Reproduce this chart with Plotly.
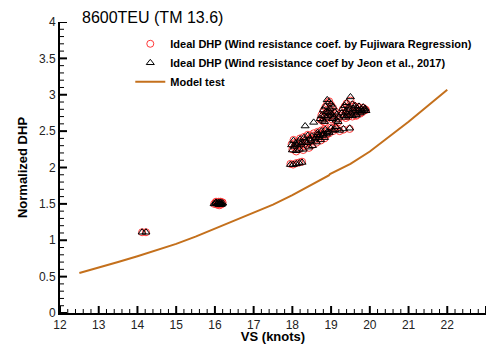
import plotly.graph_objects as go

# ---------------- data ----------------
# Ship speed (knots) of the measured voyages
vs_ship = [
    14.12, 14.22,
    15.98, 16.02, 16.05, 16.08, 16.10, 16.12, 16.14, 16.16, 16.18, 16.20, 16.03, 16.07, 16.11, 16.15,
    17.95, 18.02, 18.10, 18.18, 18.25,
    17.98, 18.00, 18.03, 18.05, 18.08, 18.10, 18.12, 18.15, 18.18, 18.20, 18.22, 18.25, 18.28, 18.30,
    18.33, 18.35, 18.38, 18.40, 18.43, 18.45, 18.48, 18.50, 18.52, 18.55, 18.58, 18.60, 18.62, 18.65,
    18.68, 18.70, 18.73, 18.75, 18.78, 18.80, 18.83, 18.85, 18.88, 18.90, 18.95, 19.00, 19.05, 19.10,
    18.72, 18.75, 18.78, 18.80, 18.82, 18.85, 18.87, 18.90, 18.92, 18.95, 18.97, 19.00, 19.02, 19.05,
    19.08, 19.10, 19.13, 19.15, 19.18, 19.20, 18.88, 18.93, 18.98, 19.03, 18.83,
    19.28, 19.30, 19.33, 19.35, 19.38, 19.40, 19.42, 19.45, 19.47, 19.50, 19.52, 19.55, 19.57, 19.60,
    19.62, 19.65, 19.68, 19.70, 19.72, 19.75, 19.78, 19.80, 19.83, 19.85, 19.88, 19.90, 19.45, 19.55,
    19.65, 19.38,
    19.22, 19.32, 19.48, 19.12, 18.65,
]

# Ideal DHP, wind resistance coefficient by Fujiwara regression
dhp_fujiwara = [
    1.11, 1.11,
    1.50, 1.52, 1.49, 1.51, 1.53, 1.50, 1.52, 1.49, 1.51, 1.52, 1.53, 1.50, 1.48, 1.53,
    2.05, 2.04, 2.06, 2.07, 2.08,
    2.32, 2.25, 2.38, 2.28, 2.34, 2.22, 2.30, 2.36, 2.26, 2.40, 2.31, 2.35, 2.24, 2.42,
    2.29, 2.37, 2.33, 2.45, 2.27, 2.40, 2.36, 2.44, 2.31, 2.47, 2.38, 2.42, 2.34, 2.49,
    2.40, 2.45, 2.37, 2.51, 2.43, 2.47, 2.40, 2.53, 2.45, 2.50, 2.47, 2.55, 2.50, 2.53,
    2.66, 2.72, 2.64, 2.78, 2.70, 2.83, 2.68, 2.88, 2.75, 2.91, 2.80, 2.86, 2.72, 2.82,
    2.68, 2.77, 2.64, 2.72, 2.62, 2.68, 2.76, 2.70, 2.74, 2.66, 2.62,
    2.74, 2.80, 2.70, 2.84, 2.76, 2.88, 2.72, 2.82, 2.78, 2.92, 2.74, 2.86, 2.80, 2.76,
    2.84, 2.72, 2.80, 2.77, 2.83, 2.74, 2.79, 2.76, 2.82, 2.78, 2.80, 2.79, 2.70, 2.70,
    2.71, 2.68,
    2.50, 2.52, 2.53, 2.55, 2.44,
]

# Ideal DHP, wind resistance coefficient by Jeon et al., 2017
dhp_jeon = [
    1.11, 1.11,
    1.50, 1.51, 1.50, 1.51, 1.52, 1.50, 1.51, 1.49, 1.50, 1.51, 1.52, 1.50, 1.49, 1.52,
    2.04, 2.04, 2.05, 2.06, 2.07,
    2.31, 2.24, 2.37, 2.29, 2.33, 2.23, 2.31, 2.35, 2.25, 2.39, 2.32, 2.34, 2.25, 2.41,
    2.57, 2.36, 2.34, 2.44, 2.28, 2.39, 2.37, 2.43, 2.30, 2.62, 2.39, 2.41, 2.35, 2.48,
    2.41, 2.44, 2.38, 2.50, 2.44, 2.46, 2.41, 2.52, 2.46, 2.49, 2.48, 2.54, 2.51, 2.52,
    2.67, 2.71, 2.65, 2.79, 2.71, 2.84, 2.69, 2.93, 2.76, 2.90, 2.81, 2.87, 2.73, 2.83,
    2.69, 2.76, 2.65, 2.73, 2.63, 2.69, 2.77, 2.71, 2.75, 2.67, 2.63,
    2.75, 2.81, 2.71, 2.85, 2.77, 2.89, 2.73, 2.83, 2.79, 2.97, 2.75, 2.87, 2.81, 2.77,
    2.85, 2.73, 2.81, 2.78, 2.84, 2.75, 2.80, 2.77, 2.83, 2.79, 2.81, 2.78, 2.71, 2.71,
    2.72, 2.69,
    2.51, 2.53, 2.54, 2.56, 2.45,
]

# Model test curve
vs_model = [12.5, 13.0, 13.5, 14.0, 14.5, 15.0, 15.5, 16.0, 16.5, 17.0, 17.5, 18.0,
            18.5, 18.94, 18.97, 19.5, 20.0, 20.5, 21.0, 21.5, 22.0]
dhp_model = [0.55, 0.62, 0.70, 0.78, 0.86, 0.95, 1.05, 1.16, 1.26, 1.37, 1.49, 1.62,
             1.76, 1.89, 1.91, 2.05, 2.22, 2.42, 2.63, 2.85, 3.07]

# Axis ticks
x_range = [12, 23]
y_range = [0, 4]
x_major = list(range(12, 24))
y_major = [0, 0.5, 1, 1.5, 2, 2.5, 3, 3.5, 4]
x_minor = [round(12 + 0.2 * i, 2) for i in range(56) if i % 5]
y_minor = [round(0.1 * i, 2) for i in range(41) if i % 5]

W, H = 492, 344
M_L, M_R, M_T, M_B = 60, 6, 22, 31
PLOT_W = W - M_L - M_R
PLOT_H = H - M_T - M_B

FONT = "Liberation Sans, Arial, sans-serif"

fig = go.Figure()
fig.add_trace(go.Scatter(
    x=vs_ship, y=dhp_fujiwara, mode="markers",
    name="<b>Ideal DHP (Wind resistance coef. by Fujiwara Regression)</b>",
    marker=dict(symbol="circle-open", size=7, color="#ff3838", line=dict(width=1, color="#ff3838")),
))
fig.add_trace(go.Scatter(
    x=vs_ship, y=dhp_jeon, mode="markers",
    name="<b>Ideal DHP (Wind resistance coef by Jeon et al., 2017)</b>",
    marker=dict(symbol="triangle-up-open", size=7, color="#000000", line=dict(width=1, color="#000000")),
))
fig.add_trace(go.Scatter(
    x=vs_model, y=dhp_model, mode="lines",
    name="<b>Model test</b>",
    line=dict(color="#c4701c", width=2),
))

# inward tick marks drawn as layout shapes
MAJ_LEN, MIN_LEN = 7, 4
for v in x_major:
    fig.add_shape(type="line", xref="x", yref="paper", x0=v, x1=v, y0=0, y1=MAJ_LEN / PLOT_H,
                  line=dict(color="black", width=2), layer="above")
for v in x_minor:
    fig.add_shape(type="line", xref="x", yref="paper", x0=v, x1=v, y0=0, y1=MIN_LEN / PLOT_H,
                  line=dict(color="black", width=1), layer="above")
for v in y_major:
    fig.add_shape(type="line", xref="paper", yref="y", x0=0, x1=MAJ_LEN / PLOT_W, y0=v, y1=v,
                  line=dict(color="black", width=2), layer="above")
for v in y_minor:
    fig.add_shape(type="line", xref="paper", yref="y", x0=0, x1=MIN_LEN / PLOT_W, y0=v, y1=v,
                  line=dict(color="black", width=1), layer="above")

fig.update_layout(
    width=W, height=H,
    margin=dict(l=M_L, r=M_R, t=M_T, b=M_B),
    paper_bgcolor="white", plot_bgcolor="white",
    font=dict(family=FONT, color="black"),
    title=dict(text="8600TEU (TM 13.6)", x=82 / W, xanchor="left", y=1 - 17 / H, yanchor="middle",
               font=dict(family=FONT, size=16, color="black")),
    legend=dict(x=0.165, xanchor="left", y=0.975, yanchor="top",
                bgcolor="rgba(0,0,0,0)", borderwidth=0,
                font=dict(family=FONT, size=11, color="black"),
                tracegroupgap=0),
    showlegend=True,
    xaxis=dict(
        range=x_range, tickmode="array", tickvals=x_major, ticks="",
        showline=True, linecolor="black", linewidth=2, showgrid=False, zeroline=False,
        automargin=False, layer="above traces",
        tickfont=dict(family=FONT, size=12, color="#222222"),
        title=dict(text="<b>VS (knots)</b>", font=dict(family=FONT, size=13), standoff=0),
    ),
    yaxis=dict(
        range=y_range, tickmode="array", tickvals=y_major, ticks="",
        showline=True, linecolor="black", linewidth=2, showgrid=False, zeroline=False,
        automargin=False, layer="above traces",
        tickfont=dict(family=FONT, size=12, color="#222222"),
        title=dict(text="<b>Normalized DHP</b>", font=dict(family=FONT, size=13), standoff=8),
    ),
)

fig.write_html("out.html")
